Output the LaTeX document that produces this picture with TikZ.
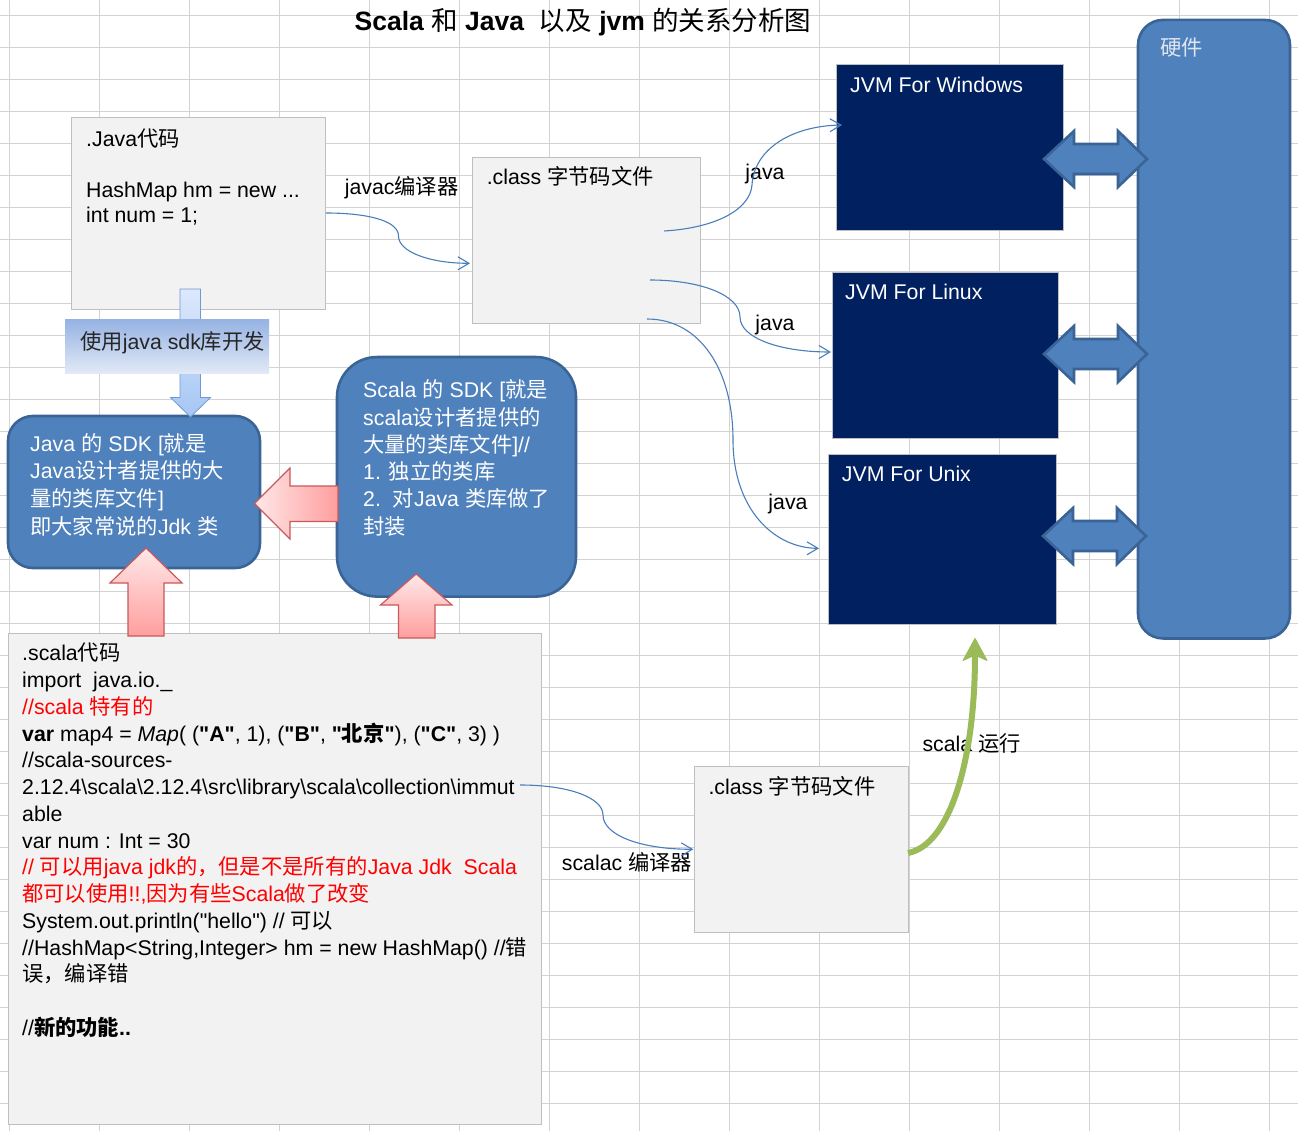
\documentclass[tikz,border=0pt]{standalone}
\usepackage{fontspec}
\setmainfont{Liberation Sans}
\newfontfamily\zhfont{Noto Sans CJK SC}
\newcommand{\zh}[1]{{\zhfont #1}}
\newcommand{\qt}{\textquotedbl}
\usetikzlibrary{calc}
\usetikzlibrary{arrows.meta}

\definecolor{gridgray}{HTML}{D3D3D3}
\definecolor{boxgray}{HTML}{F2F2F2}
\definecolor{boxedge}{HTML}{BFBFBF}
\definecolor{jvmnavy}{HTML}{002060}
\definecolor{sdkblue}{HTML}{4F81BD}
\definecolor{sdkedge}{HTML}{3A6496}
\definecolor{flowblue}{HTML}{4A7EBB}
\definecolor{notered}{HTML}{FF0000}
\definecolor{pinklight}{HTML}{FFE8E8}
\definecolor{pinkdark}{HTML}{FF9E9E}
\definecolor{pinkedge}{HTML}{C9595A}
\definecolor{usetop}{HTML}{96B3E3}
\definecolor{usebottom}{HTML}{E3EAF7}
\definecolor{downlight}{HTML}{DCE8FC}
\definecolor{downdark}{HTML}{A6C6F4}
\definecolor{downedge}{HTML}{7199D4}
\definecolor{rungreen}{HTML}{9BBB59}
\definecolor{hwtext}{HTML}{DFE6F0}

\tikzset{
  gridline/.style={gridgray, line width=0.8pt},
  srcbox/.style={draw=boxedge, fill=boxgray, line width=0.8pt, inner sep=0pt},
  jvmbox/.style={draw=boxedge, fill=jvmnavy, line width=0.8pt, inner sep=0pt},
  sdkbox/.style={draw=sdkedge, fill=sdkblue, line width=2.6pt, inner sep=0pt},
  txt/.style={inner sep=0pt, font=\fontsize{21.3}{26.8}\selectfont},
  block/.style={align=left, anchor=north west},
  flow/.style={flowblue, line width=1.1pt, -{Straight Barb[length=11pt,width=13pt]}},
  pinkarrow/.style={draw=pinkedge, line width=1.2pt},
  hwarrow/.style={draw=sdkedge, fill=sdkblue, line width=2.6pt},
}

\begin{document}
\begin{tikzpicture}[x=1pt, y=-1pt]
	\useasboundingbox (0,0) rectangle (1298,1131);
	\fill[white] (0,0) rectangle (1298,1131);
	% spreadsheet grid
	\foreach \gx in {0,...,14}
		\draw[gridline] ({9.3+90*\gx},0) -- ({9.3+90*\gx},1131);
	\foreach \gy in {0,...,34}
		\draw[gridline] (0,{15.5+32*\gy}) -- (1298,{15.5+32*\gy});

	\node[txt, anchor=base, font=\fontsize{26.5}{30}\selectfont\bfseries] (title) at (583,30.5)
		{Scala {\mdseries\zh{和}} Java\ \ {\mdseries\zh{以及}} jvm {\mdseries\zh{的关系分析图}}};

	% java side
	\node[srcbox, minimum width=254pt, minimum height=192pt] (javasrc) at (198.5,213) {};
	\node[txt, block, font=\fontsize{21.3}{25.5}\selectfont] (javatxt) at (86,128.5)
		{.Java\zh{代码}\\ \\HashMap hm = new ...\\int num = 1;};

	\node[sdkbox, rounded corners=25pt, minimum width=252pt, minimum height=152pt] (javasdk) at (134,492) {};
	\node[txt, block, white, font=\fontsize{21.3}{27.8}\selectfont] (javasdktxt) at (30,433)
		{Java \zh{的} SDK [\zh{就是}\\Java\zh{设计者提供的大}\\\zh{量的类库文件}]\\\zh{即大家常说的}Jdk \zh{类}};

	\draw[draw=downedge, line width=0.8pt, top color=downlight, bottom color=downdark]
		(180,289) -- (200.5,289) -- (200.5,397.5) -- (210.5,397.5) -- (190.5,417)
		-- (170.5,397.5) -- (180,397.5) -- cycle;
	\node[inner sep=0pt, minimum width=204pt, minimum height=54pt, top color=usetop, bottom color=usebottom] (sdkuse) at (167,347) {};
	\node[txt, anchor=base west, black!85] (sdkusetxt) at (80,349) {\zh{使用}java sdk\zh{库开发}};

	% scala sdk
	\node[sdkbox, rounded corners=40pt, minimum width=239pt, minimum height=239.5pt] (scalasdk) at (456.5,476.8) {};
	\node[txt, block, white, font=\fontsize{21.3}{27.3}\selectfont] (scalasdktxt) at (363,379.6)
		{Scala \zh{的} SDK [\zh{就是}\\scala\zh{设计者提供的}\\\zh{大量的类库文件}]//\\1. \zh{独立的类库}\\2.\ \ \zh{对}Java \zh{类库做了}\\\zh{封装}};
	\draw[pinkarrow, left color=pinklight, right color=pinkdark]
		(338,486) -- (290,486) -- (290,468) -- (254.5,503.5) -- (290,539) -- (290,521.5) -- (338,521.5) -- cycle;

	% scala source
	\node[srcbox, minimum width=533pt, minimum height=491pt] (scalasrc) at (274.5,878.5) {};
	\node[txt, block, font=\fontsize{21.3}{26.74}\selectfont] (scalatxt) at (22,643)
		{.scala\zh{代码}\\
		import\ \ java.io.\_\\
		\textcolor{notered}{//scala \zh{特有的}}\\
		\textbf{var} map4 = \textit{Map}( (\textbf{\qt A\qt}, 1), (\textbf{\qt B\qt}, \textbf{\qt\zh{北京}\qt}), (\textbf{\qt C\qt}, 3) )\\
		//scala-sources-\\
		2.12.4\textbackslash scala\textbackslash 2.12.4\textbackslash src\textbackslash library\textbackslash scala\textbackslash collection\textbackslash immut\\
		able\\
		var num : Int = 30\\
		\textcolor{notered}{// \zh{可以用}java jdk\zh{的，但是不是所有的}Java Jdk\ \ Scala}\\
		\textcolor{notered}{\zh{都可以使用}!!,\zh{因为有些}Scala\zh{做了改变}}\\
		System.out.println(\qt hello\qt) // \zh{可以}\\
		//HashMap<String,Integer> hm = new HashMap() //\zh{错}\\
		\zh{误，编译错}\\
		\\
		//\textbf{\zh{新的功能}..}};
	\draw[pinkarrow, top color=pinklight, bottom color=pinkdark]
		(128,636) -- (128,583) -- (110,583) -- (146,548) -- (182,583) -- (164,583) -- (164,636) -- cycle;
	\draw[pinkarrow, top color=pinklight, bottom color=pinkdark]
		(398.5,638) -- (398.5,605) -- (380.5,605) -- (416.2,574) -- (452,605) -- (435,605) -- (435,638) -- cycle;

	% class files
	\node[srcbox, minimum width=228pt, minimum height=166pt] (classtop) at (586,240) {};
	\node[txt, anchor=base west] (classtoptxt) at (486.6,185) {.class \zh{字节码文件}};
	\node[txt, anchor=base west] (javac) at (344.6,195) {javac\zh{编译器}};

	\node[srcbox, minimum width=214pt, minimum height=166pt] (classbot) at (801,849) {};
	\node[txt, anchor=base west] (classbottxt) at (708.3,794) {.class \zh{字节码文件}};
	\node[txt, anchor=base west] (scalac) at (561.7,870.5) {scalac \zh{编译器}};
	\node[txt, anchor=base west] (scalarun) at (922.3,751) {scala \zh{运行}};

	% jvms and hardware
	\node[jvmbox, minimum width=227pt, minimum height=166pt] (jvmwin) at (949.5,147.5) {};
	\node[txt, white, anchor=base west] (jvmwintxt) at (850,93) {JVM For Windows};
	\node[jvmbox, minimum width=226pt, minimum height=165.5pt] (jvmlinux) at (945,355.2) {};
	\node[txt, white, anchor=base west] (jvmlinuxtxt) at (845,300) {JVM For Linux};
	\node[jvmbox, minimum width=228pt, minimum height=170.5pt] (jvmunix) at (942.5,539.2) {};
	\node[txt, white, anchor=base west] (jvmunixtxt) at (841.7,481.7) {JVM For Unix};

	\node[sdkbox, rounded corners=25pt, minimum width=152pt, minimum height=618.5pt] (hw) at (1214,329.2) {};
	\node[txt, hwtext, anchor=base west] (hwtxt) at (1160,55.5) {\zh{硬件}};

	\foreach \xl/\yc in {1044/159, 1044/354, 1043/536}
		\draw[hwarrow] (\xl,\yc) -- ++(30,-28) -- ++(0,13) -- ++(44,0) -- ++(0,-13) -- ++(29,28)
			-- ++(-29,28) -- ++(0,-13) -- ++(-44,0) -- ++(0,13) -- cycle;

	% java run labels
	\node[txt, anchor=base] (javawin) at (765,179.5) {java};
	\node[txt, anchor=base] (javalinux) at (775,331) {java};
	\node[txt, anchor=base] (javaunix) at (788,509.5) {java};

	% connectors
	\coordinate (javain) at (470,263.3);
	\coordinate (winout) at (664,231);
	\coordinate (winin) at (842,125);
	\coordinate (linuxout) at (650,280);
	\coordinate (linuxin) at (831,352);
	\coordinate (unixout) at (647,319);
	\coordinate (unixin) at (819,548.3);
	\coordinate (scalaout) at (520,785);
	\coordinate (classin) at (693.3,849.3);
	\coordinate (runout) at (908,853);
	\coordinate (runin) at (975,638);

	\draw[flow] (javasrc.east) .. controls (365,213) and (398.5,220) .. (398.5,236)
		.. controls (398.5,252) and (430,263.3) .. (javain);
	\draw[flow] (winout) .. controls (715,228) and (750,210) .. (752,185)
		.. controls (754,150) and (790,126) .. (winin);
	\draw[flow] (linuxout) .. controls (700,280) and (740,295) .. (740,317)
		.. controls (740,338) and (780,352) .. (linuxin);
	\draw[flow] (unixout) .. controls (700,319) and (733,370) .. (733,440)
		.. controls (733,510) and (775,548.3) .. (unixin);
	\draw[flow] (scalaout) .. controls (570,785) and (603,798) .. (603,815)
		.. controls (603,835) and (640,849.3) .. (classin);
	\draw[rungreen, line width=6pt, -{Stealth[length=24pt,width=26pt,inset=6pt,line width=1pt,round]}]
		(runout) .. controls (950,845) and (975,760) .. (runin);
\end{tikzpicture}
\end{document}
